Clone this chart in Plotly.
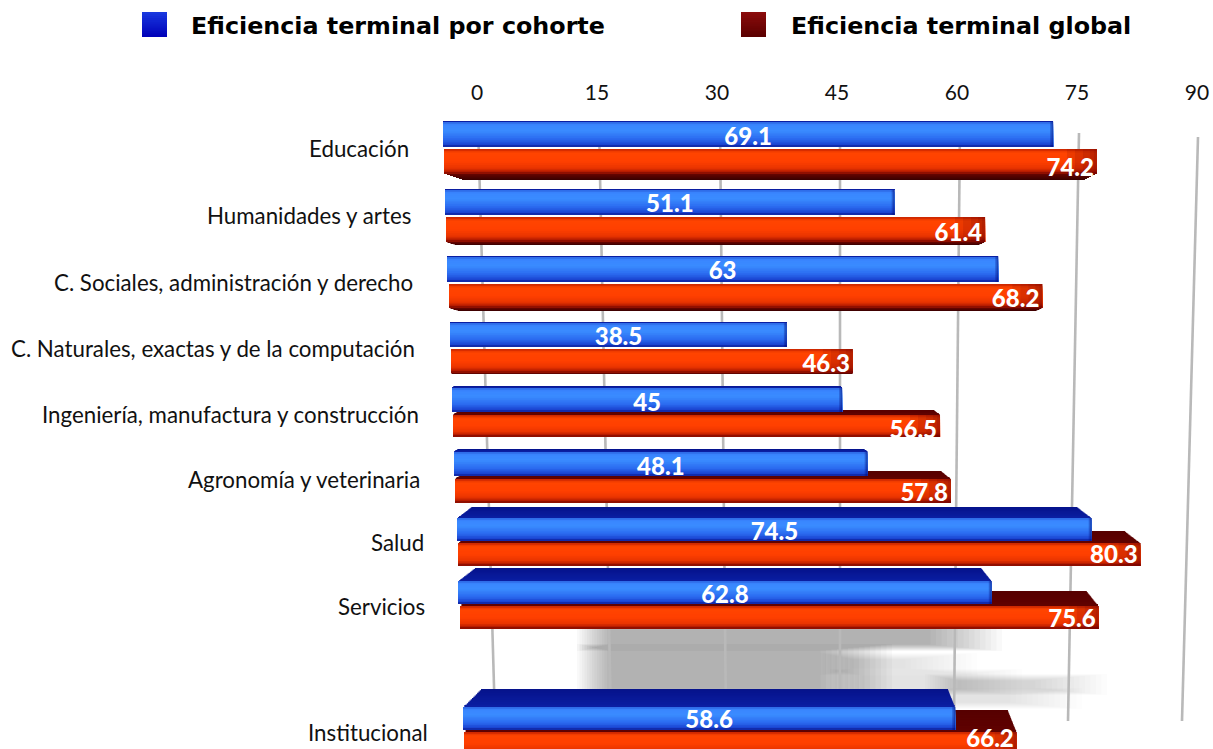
import plotly.graph_objects as go

# ---- data ----
categories = ["Educación", "Humanidades y artes", "C. Sociales, administración y derecho",
              "C. Naturales, exactas y de la computación", "Ingeniería, manufactura y construcción",
              "Agronomía y veterinaria", "Salud", "Servicios", "Institucional"]
cohorte = [69.1, 51.1, 63, 38.5, 45, 48.1, 74.5, 62.8, 58.6]
global_ = [74.2, 61.4, 68.2, 46.3, 56.5, 57.8, 80.3, 75.6, 66.2]
ticks = [0, 15, 30, 45, 60, 75, 90]
series_names = ["Eficiencia terminal por cohorte", "Eficiencia terminal global"]

# ---- perspective geometry of the 3-D look (pixels in the 1213x749 page) ----
W, H = 1213, 749
X0, XU = 477, 8.0            # pixel of value 0, pixels per unit
Y0, YU = 148, 65.0           # pixel of row 0, pixels per row
TOP = 105
def xu(px): return (px - X0) / XU
def yu(py): return (py - Y0) / YU

label_y = [148, 215, 282, 348, 414, 479, 542, 606, 732]
label_right = [411, 413, 415, 417, 421, 422, 426, 427, 430]
blue_front = [(122, 147), (190, 215), (257, 282), (323, 347), (388, 412), (452, 476), (518, 541), (581, 604), (707, 730)]
red_front = [(149, 174), (217, 242), (284, 308), (349, 373), (415, 437), (479, 503), (543, 566), (606, 629), (732, 755)]
blue_start = [443, 445, 447, 450, 452, 454, 457, 458, 463]
red_start = [444, 446, 449, 451, 453, 455, 458, 460, 464]
blue_scale = [8.83, 8.80, 8.75, 8.75, 8.67, 8.60, 8.52, 8.50, 8.40]
red_scale = [8.80, 8.78, 8.70, 8.68, 8.62, 8.58, 8.50, 8.45, 8.35]
blue_top_depth = [1, 1, 1, 1, 2, 3, 11, 13, 18]
red_top_depth = [0, 0, 0, 0, 5, 8, 12, 15, 22]
red_bottom_depth = [6, 3, 3, 1, 0, 0, 0, 0, 0]
left_recess = [1.3, 1.3, 1.3, 1.3, 1.3, 1.3, 1.3, 1.3, 1.0]
right_recess = [1.2, 1.2, 1.2, 1.2, 1.2, 1.2, 1.3, 0.8, 0.4]
blue_label_y = [135, 202, 269, 335, 401, 465, 530, 593, 718]
red_label_y = [166, 231, 297, 362, 428, 491, 553, 617, 737]

BLUE_STOPS = [(0, "#2a62e0"), (.12, "#3a86ff"), (.35, "#3a8cff"), (.7, "#2a68ee"), (.9, "#1a44d0"), (1, "#0c1f9a")]
RED_STOPS = [(0, "#c02000"), (.14, "#ff4400"), (.5, "#ff4000"), (.78, "#e83400"), (.93, "#a81400"), (1, "#7a0a00")]

def hex2rgb(c): return tuple(int(c[i:i + 2], 16) for i in (1, 3, 5))
def mix(stops, t):
    for (a, ca), (b, cb) in zip(stops, stops[1:]):
        if t <= b:
            f = (t - a) / (b - a)
            r = [round(p + (q - p) * f) for p, q in zip(hex2rgb(ca), hex2rgb(cb))]
            return f"rgb({r[0]},{r[1]},{r[2]})"
    return stops[-1][1]

fig = go.Figure()
ycenter = [yu(v) for v in label_y]

def add_layer(name, left, right, top, bottom, color):
    """one strip per row, pixels -> axis units"""
    fig.add_trace(go.Bar(
        orientation="h", name=name, showlegend=False, hoverinfo="skip",
        y=ycenter, base=[xu(l) for l in left],
        x=[(r - l) / XU for l, r in zip(left, right)],
        width=[(b - t) / YU for t, b in zip(top, bottom)],
        offset=[yu(t) - c for t, c in zip(top, ycenter)],
        marker=dict(color=color, line=dict(width=0))))

def add_top_face(name, start, end, front, depth, c_back, c_front, n=14):
    for j in range(n):
        f0 = j / n
        f1 = (j + 1) / n
        left = [s + d * lr * (1 - f0) for s, d, lr in zip(start, depth, left_recess)]
        right = [e - d * rr * (1 - f0) for e, d, rr in zip(end, depth, right_recess)]
        top = [fr[0] - d * (1 - f0) for fr, d in zip(front, depth)]
        bot = [fr[0] for fr in front]
        add_layer(name, left, right, top, bot, mix([(0, c_back), (1, c_front)], f1))

def add_bottom_face(name, start, end, front, depth, n=6):
    for j in range(n):
        f1 = 1 - j / n
        left = [s + d * 3 * f1 for s, d in zip(start, depth)]
        right = [e - d * 2 * f1 for e, d in zip(end, depth)]
        top = [fr[1] for fr in front]
        bot = [fr[1] + d * (1 - j / n) for fr, d in zip(front, depth)]
        add_layer(name, left, right, top, bot, mix([(0, "#6a0500"), (1, "#3c0000")], f1))

def add_front(name, start, end, front, stops, n=14):
    for j in range(n):
        f0 = j / n
        top = [fr[0] + (fr[1] - fr[0]) * f0 for fr in front]
        bot = [fr[1] for fr in front]
        add_layer(name, start, end, top, bot, mix(stops, (j + .5) / n))

blue_end = [s + v * k for s, v, k in zip(blue_start, cohorte, blue_scale)]
red_end = [s + v * k for s, v, k in zip(red_start, global_, red_scale)]

# dark rear faces first, then the lower (red) bars, then blue in front of them
add_top_face(series_names[1], red_start, red_end, red_front, red_top_depth, "#560000", "#600200")
add_bottom_face(series_names[1], red_start, red_end, red_front, red_bottom_depth)
add_front(series_names[1], red_start, red_end, red_front, RED_STOPS)
for w in (30, 22, 14, 7, 3):   # red darkens towards its end cap
    add_layer(series_names[1], [e - w for e in red_end], red_end,
              [f[0] for f in red_front], [f[1] for f in red_front], "rgba(110,0,0,0.13)")

add_top_face(series_names[0], blue_start, blue_end, blue_front, blue_top_depth, "#06128a", "#0a1ea2")
add_front(series_names[0], blue_start, blue_end, blue_front, BLUE_STOPS)
for w in (3, 1.5):
    add_layer(series_names[0], [e - w for e in blue_end], blue_end,
              [f[0] for f in blue_front], [f[1] for f in blue_front], "rgba(0,10,120,0.3)")

# value labels are the bars' own text
LABEL_FONT = dict(family="Lato, 'Open Sans', sans-serif", size=24, color="white", weight=900)
def add_text(name, start, end, vals, ys, anchor):
    fig.add_trace(go.Bar(
        orientation="h", name=name, showlegend=False, hoverinfo="skip",
        y=ycenter, base=[xu(s) for s in start], x=[(e - s) / XU for s, e in zip(start, end)],
        width=[34 / YU] * len(vals), offset=[yu(v - 17) - c for v, c in zip(ys, ycenter)],
        marker=dict(color="rgba(0,0,0,0)", line=dict(width=0)),
        text=[f"{v:g}" for v in vals], textposition="inside", insidetextanchor=anchor,
        textangle=0, insidetextfont=LABEL_FONT, constraintext="none", cliponaxis=False))
add_text(series_names[1], red_start, red_end, global_, red_label_y, "end")
add_text(series_names[0], blue_start, blue_end, cohorte, blue_label_y, "middle")

# ---- furniture: leaning gridlines, soft floor shadow, legend swatches ----
shapes = []
shadow_rects = [(612, 925, 630, 644, 1.0), (612, 815, 651, 688, 1.0), (855, 900, 660, 668, .3),
                (865, 945, 676, 688, .4), (960, 1030, 681, 688, .5), (960, 1005, 695, 702, .3)]
BLUR = 14
for x0, x1, y0, y1, strength in shadow_rects:
    for i in range(BLUR):
        g = (BLUR - i) * 2.5
        shapes.append(dict(type="rect", xref="x", yref="y", layer="below", line_width=0,
                           x0=xu(x0 - g), x1=xu(x1 + g * 2.2), y0=yu(y0 - g / 5),
                           y1=yu(y1 + g / 5), fillcolor="black", opacity=0.024 * strength))

grid_top_px = [478, 599, 720, 840, 960, 1079, 1198]
grid_bot_px = [495, 611, 726, 840, 954, 1068, 1182]
grid_top_y = [125, 125, 125, 125, 125, 133, 137]
for gt, gb, yt in zip(grid_top_px, grid_bot_px, grid_top_y):
    shapes.append(dict(type="line", xref="x", yref="y", layer="below",
                       x0=xu(gt), x1=xu(gb), y0=yu(yt), y1=yu(721),
                       line=dict(color="#b9b9b9", width=2.6)))

def swatch(px0, stops):
    n = 12
    for j in range(n):
        shapes.append(dict(type="rect", xref="paper", yref="paper", line_width=0,
                           x0=px0 / W, x1=(px0 + 25) / W,
                           y0=1 + (TOP - 37) / (H - TOP),
                           y1=1 + (TOP - (12 + 25 * j / n)) / (H - TOP),
                           fillcolor=mix(stops, (j + .5) / n)))
swatch(142, [(0, "#1a3ae0"), (1, "#0000b8")])
swatch(741, [(0, "#8c0c0c"), (1, "#5a0000")])

CAT_FONT = dict(family="Lato, 'Open Sans', sans-serif", size=22.3, color="#111111")
annotations = [dict(xref="x", yref="y", x=xu(r), y=yu(y), text=c, showarrow=False,
                    xanchor="right", yanchor="middle", font=CAT_FONT)
               for c, r, y in zip(categories, label_right, label_y)]
for name, px in zip(series_names, (189, 789)):
    annotations.append(dict(xref="paper", yref="paper", x=px / W, y=1 + (TOP - 26) / (H - TOP),
                            text=f"<b>{name}</b>", showarrow=False, xanchor="left", yanchor="middle",
                            font=dict(family="DejaVu Sans", size=23.8, color="black")))

fig.update_layout(
    width=W, height=H, autosize=False, barmode="overlay", showlegend=False,
    margin=dict(l=0, r=0, t=TOP, b=0), paper_bgcolor="white", plot_bgcolor="white",
    xaxis=dict(side="top", range=[xu(0), xu(W)], tickmode="array", tickvals=ticks,
               ticktext=[str(t) for t in ticks], showgrid=False, zeroline=False, showline=False,
               ticks="", tickfont=dict(family="Lato, 'Open Sans', sans-serif", size=21, color="#111111")),
    yaxis=dict(range=[yu(H), yu(TOP)], visible=False, showgrid=False, zeroline=False),
    shapes=shapes, annotations=annotations)

fig.write_html("out.html", config={"displayModeBar": False},
               post_script="document.body.style.margin='0';document.body.style.overflow='hidden';")
